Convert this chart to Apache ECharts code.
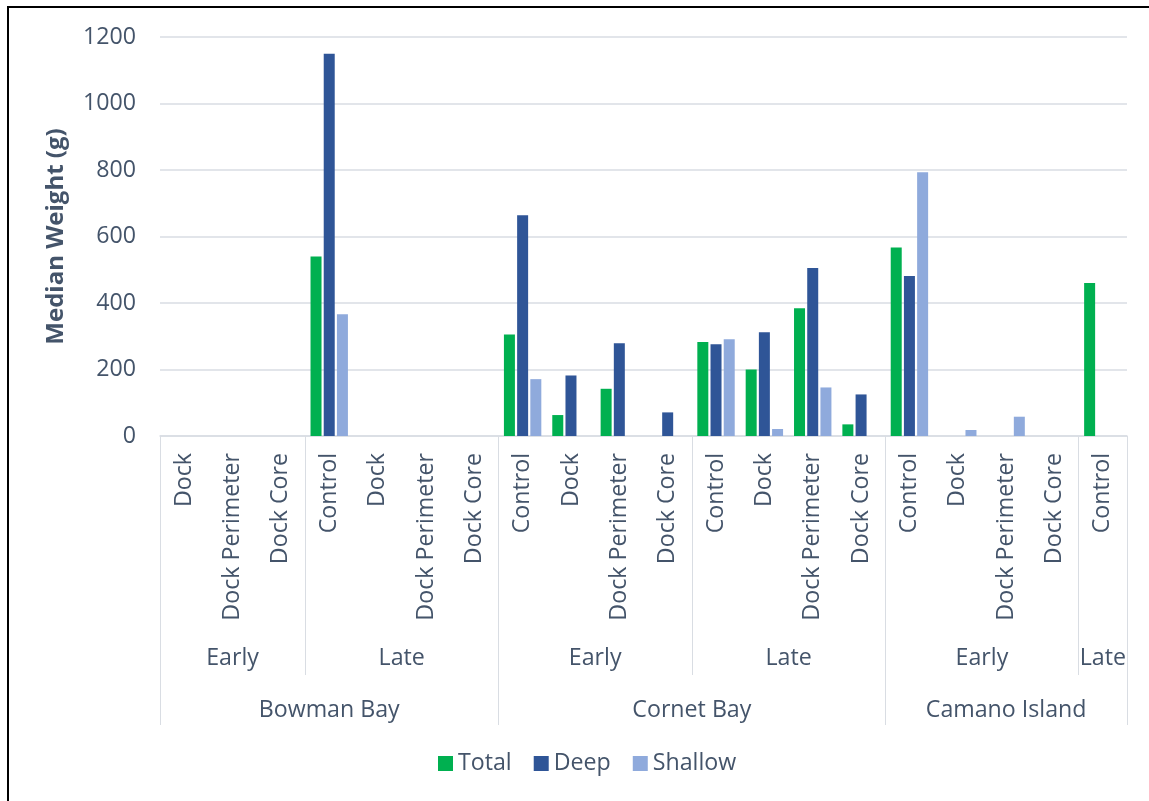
<!DOCTYPE html>
<html>
<head>
<meta charset="utf-8">
<script src="https://cdn.jsdelivr.net/npm/echarts@6/dist/echarts.min.js"></script>
<style>
  html, body { margin: 0; padding: 0; background: #fff; overflow: hidden; }
  #chart { position: absolute; left: 0; top: 0; width: 1149px; height: 801px; }
  #frame { position: absolute; left: 7px; top: 6px; width: 1200px; height: 850px;
    border-top: 2px solid #000; border-left: 2px solid #000; pointer-events: none; }
</style>
</head>
<body>
<div id="chart"></div>
<div id="frame"></div>
<script>
const sites = ['Bowman Bay', 'Cornet Bay', 'Camano Island']
const siteSizes = [7, 8, 5]
const periods = ['Early', 'Late', 'Early', 'Late', 'Early', 'Late']
const periodSizes = [3, 4, 4, 4, 4, 1]
const treatments = [
  'Dock', 'Dock Perimeter', 'Dock Core',
  'Control', 'Dock', 'Dock Perimeter', 'Dock Core',
  'Control', 'Dock', 'Dock Perimeter', 'Dock Core',
  'Control', 'Dock', 'Dock Perimeter', 'Dock Core',
  'Control', 'Dock', 'Dock Perimeter', 'Dock Core',
  'Control'
]
const total = [null, null, null, 540, null, null, null, 305, 63, 142, null, 283, 200, 384, 35, 567, null, null, null, 460]
const deep = [null, null, null, 1150, null, null, null, 664, 182, 279, 71, 276, 312, 505, 125, 481, null, null, null, null]
const shallow = [null, null, null, 366, null, null, null, 171, null, null, null, 291, 21, 146, null, 793, 18, 58, null, null]

const textColor = '#44546A'
const lineColor = '#D9DDE3'
const font = 'Open Sans'
const fontSize = 23.2

// group boundaries and centres in category units (0..treatments.length)
function groups(names, sizes) {
  const bounds = [0]
  const centers = []
  const labels = {}
  let pos = 0
  sizes.forEach((n, i) => {
    const c = pos + n / 2
    centers.push(c)
    labels[c] = names[i]
    pos += n
    bounds.push(pos)
  })
  return { bounds, centers, labels }
}

const periodGroups = groups(periods, periodSizes)
const siteGroups = groups(sites, siteSizes)

function levelAxis(g, tickLen, labelMargin) {
  return {
    type: 'value',
    position: 'bottom',
    min: 0,
    max: treatments.length,
    axisLine: { show: false },
    splitLine: { show: false },
    axisTick: { show: true, customValues: g.bounds, length: tickLen, lineStyle: { color: lineColor, width: 1 } },
    axisLabel: {
      customValues: g.centers,
      formatter: v => g.labels[v] || '',
      margin: labelMargin,
      color: textColor,
      fontSize: fontSize,
      fontFamily: font
    }
  }
}

const chart = echarts.init(document.getElementById('chart'))

chart.setOption({
  animation: false,
  textStyle: { fontFamily: font },
  color: ['#00B050', '#2F5597', '#8FAADC'],
  grid: { left: 160, right: 22, top: 37, bottom: 365, outerBoundsMode: 'none' },
  legend: {
    data: ['Total', 'Deep', 'Shallow'],
    left: 433,
    top: 747,
    icon: 'rect',
    itemWidth: 15,
    itemHeight: 15,
    itemGap: 22,
    textStyle: { color: textColor, fontSize: fontSize, fontFamily: font }
  },
  xAxis: [
    {
      type: 'category',
      data: treatments,
      axisLine: { lineStyle: { color: lineColor, width: 1.5 } },
      axisTick: { show: false },
      axisLabel: { rotate: 90, interval: 0, margin: 17, color: textColor, fontSize: fontSize, fontFamily: font }
    },
    levelAxis(periodGroups, 239, 211),
    levelAxis(siteGroups, 289, 263)
  ],
  yAxis: {
    type: 'value',
    min: 0,
    max: 1200,
    interval: 200,
    name: 'Median Weight (g)',
    nameLocation: 'middle',
    nameGap: 92,
    nameTextStyle: { color: textColor, fontSize: 24, fontWeight: 'bold', fontFamily: font },
    axisLine: { show: false },
    axisTick: { show: false },
    axisLabel: { margin: 24, color: textColor, fontSize: fontSize, fontFamily: font, formatter: v => String(v) },
    splitLine: { lineStyle: { color: lineColor, width: 1.5 } }
  },
  series: [
    { name: 'Total', type: 'bar', data: total, barWidth: 11, barGap: '20%' },
    { name: 'Deep', type: 'bar', data: deep, barWidth: 11, barGap: '20%' },
    { name: 'Shallow', type: 'bar', data: shallow, barWidth: 11, barGap: '20%' }
  ]
})
</script>
</body>
</html>
